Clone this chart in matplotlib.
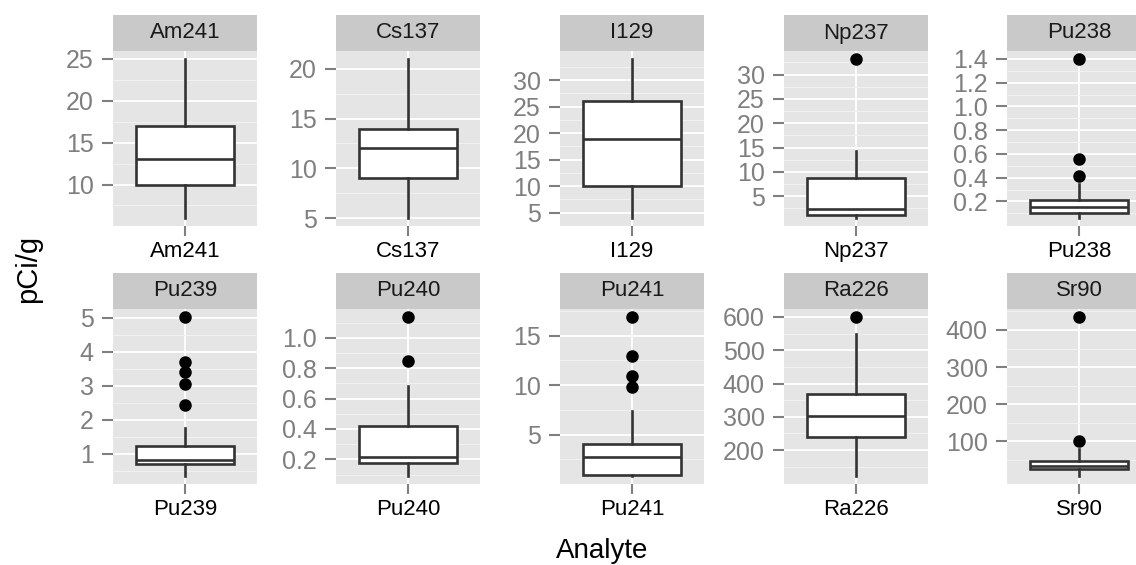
import matplotlib
matplotlib.use('Agg')
import matplotlib.pyplot as plt
from matplotlib.ticker import FixedLocator

plt.rcParams['font.family'] = ['Liberation Sans', 'DejaVu Sans']

# valores (caixas por analito)
analytes = ['Am241', 'Cs137', 'I129', 'Np237', 'Pu238',
            'Pu239', 'Pu240', 'Pu241', 'Ra226', 'Sr90']
whis_lo = [6, 5, 4, 0.5, 0.06, 0.35, 0.09, 0.8, 122, 7]
q1 = [10, 9, 10, 1.1, 0.10, 0.70, 0.176, 0.93, 238, 25]
median = [13, 12, 19, 2.3, 0.155, 0.83, 0.213, 2.7, 301, 35]
q3 = [17, 14, 26, 8.8, 0.21, 1.22, 0.42, 4.0, 370, 47]
whis_hi = [25, 21, 34, 14.2, 0.347, 1.77, 0.68, 7.4, 548, 79]
outliers = [[], [], [], [33.2], [1.40, 0.557, 0.41],
            [5.02, 3.7, 3.4, 3.05, 2.43], [1.137, 0.85],
            [16.9, 12.9, 10.9, 9.85], [600], [435, 101]]
y_ticks = [[10, 15, 20, 25], [5, 10, 15, 20], [5, 10, 15, 20, 25, 30],
           [5, 10, 15, 20, 25, 30], [0.2, 0.4, 0.6, 0.8, 1.0, 1.2, 1.4],
           [1, 2, 3, 4, 5], [0.2, 0.4, 0.6, 0.8, 1.0], [5, 10, 15],
           [200, 300, 400, 500, 600], [100, 200, 300, 400]]
y_decimals = [0, 0, 0, 0, 1, 0, 1, 0, 0, 0]

W, H = 1136, 565
fig = plt.figure(figsize=(W / 100, H / 100), dpi=100)

panel_left = [113, 336, 560, 784, 1007]
panel_w = 144
rows = [(51, 226, 15), (309, 484, 273)]  # topo painel, base painel, topo faixa

def px_axes(x0, y0, x1, y1):
    return fig.add_axes([x0 / W, 1 - y1 / H, (x1 - x0) / W, (y1 - y0) / H])

for i, name in enumerate(analytes):
    r, c = divmod(i, 5)
    top, bot, strip_top = rows[r]
    x0 = panel_left[c]

    # faixa cinza com o nome
    sax = px_axes(x0, strip_top, x0 + panel_w, top)
    sax.set_facecolor('#C9C9C9')
    sax.set_xticks([]); sax.set_yticks([])
    for s in sax.spines.values():
        s.set_visible(False)
    sax.text(0.5, 0.5, name, ha='center', va='center', fontsize=16,
             color='#1A1A1A', transform=sax.transAxes)

    ax = px_axes(x0, top, x0 + panel_w, bot)
    ax.set_facecolor('#E5E5E5')
    for s in ax.spines.values():
        s.set_visible(False)

    stats = [dict(med=median[i], q1=q1[i], q3=q3[i], whislo=whis_lo[i],
                  whishi=whis_hi[i], fliers=outliers[i], label=name)]
    ax.bxp(stats, positions=[1], widths=0.82, showcaps=False, patch_artist=True,
           boxprops=dict(facecolor='white', edgecolor='#333333', linewidth=1.9),
           medianprops=dict(color='#333333', linewidth=1.9),
           whiskerprops=dict(color='#333333', linewidth=1.9),
           flierprops=dict(marker='o', markerfacecolor='black',
                           markeredgecolor='black', markersize=8), zorder=3)

    lo = min([whis_lo[i]] + outliers[i])
    hi = max([whis_hi[i]] + outliers[i])
    pad = 0.05 * (hi - lo)
    ax.set_ylim(lo - pad, hi + pad)
    ax.set_xlim(0.4, 1.6)

    ticks = y_ticks[i]
    step = ticks[1] - ticks[0]
    minors = [t - step / 2 for t in ticks] + [ticks[-1] + step / 2]
    ax.yaxis.set_major_locator(FixedLocator(ticks))
    ax.yaxis.set_minor_locator(FixedLocator(minors))
    ax.set_yticklabels([f'{t:.{y_decimals[i]}f}' for t in ticks])
    ax.set_xticks([1])
    ax.set_xticklabels([name])

    ax.grid(True, which='major', color='white', linewidth=1.3, zorder=0)
    ax.grid(True, which='minor', axis='y', color='#F2F2F2', linewidth=0.7, zorder=0)
    ax.set_axisbelow(True)

    ax.tick_params(axis='y', which='major', length=8, width=1.5, color='#7F7F7F',
                   labelsize=18, labelcolor='#7F7F7F', pad=6)
    ax.tick_params(axis='y', which='minor', length=0)
    ax.tick_params(axis='x', length=7, width=1.5, color='#7F7F7F',
                   labelsize=16, labelcolor='black', pad=4)

fig.text(28 / W, 1 - 269 / H, 'pCi/g', rotation=90, ha='center', va='center',
         fontsize=21)
fig.text(602 / W, 1 - 551 / H, 'Analyte', ha='center', va='center', fontsize=20)

fig.savefig('out.png', dpi=100)
